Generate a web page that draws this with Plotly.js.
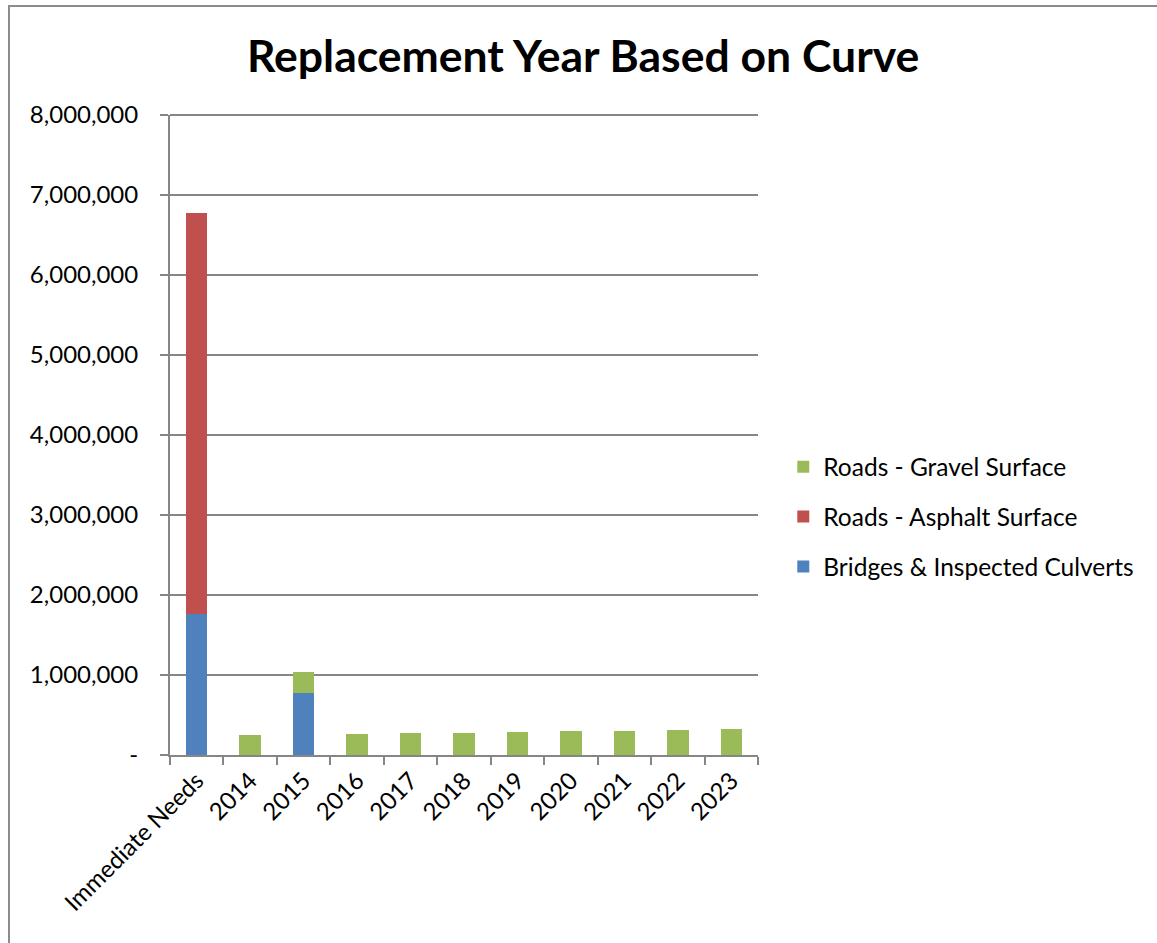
<!DOCTYPE html>
<html>
<head>
<meta charset="utf-8">
<script src="https://cdn.plot.ly/plotly-3.0.1.min.js"></script>
<style>
body{margin:0;padding:0;background:#fff;}
#chart{width:1157px;height:943px;position:absolute;left:0;top:0;}
#frame{position:absolute;left:8px;top:5px;width:1147px;height:936px;border:2px solid #8c8c8c;border-right:none;border-bottom:none;pointer-events:none;}
</style>
</head>
<body>
<div id="chart"></div>
<div id="frame"></div>
<script>
const categories = ["Immediate Needs","2014","2015","2016","2017","2018","2019","2020","2021","2022","2023"];
const bridges = [1762000, 0, 779000, 0, 0, 0, 0, 0, 0, 0, 0];
const asphalt = [5013000, 0, 0, 0, 0, 0, 0, 0, 0, 0, 0];
const gravel = [0, 246000, 254000, 262000, 271000, 279000, 287000, 296000, 300000, 312000, 321000];
const yTickVals = [0,1000000,2000000,3000000,4000000,5000000,6000000,7000000,8000000];
const yTickText = ["-","1,000,000","2,000,000","3,000,000","4,000,000","5,000,000","6,000,000","7,000,000","8,000,000"];

const font = "Lato, 'Open Sans', sans-serif";
const traces = [
  {type:"bar", name:"Bridges & Inspected Culverts", legendgroup:"a", legendrank:3, x:categories, y:bridges, marker:{color:"#4F81BD"}},
  {type:"bar", name:"Roads - Asphalt Surface", legendgroup:"b", legendrank:2, x:categories, y:asphalt, marker:{color:"#C0504D"}},
  {type:"bar", name:"Roads - Gravel Surface", legendgroup:"c", legendrank:1, x:categories, y:gravel, marker:{color:"#9BBB59"}}
];
const layout = {
  width:1157, height:943,
  paper_bgcolor:"#fff", plot_bgcolor:"#fff",
  barmode:"stack", bargap:0.6,
  margin:{l:170, r:399, t:115, b:188, autoexpand:false},
  font:{family:font, color:"#000", size:24},
  title:{text:"<b>Replacement Year Based on Curve</b>", x:0.504, xanchor:"center", y:0.94, yanchor:"middle", font:{family:font, size:44.5, color:"#000"}},
  xaxis:{type:"category", tickangle:-45, showline:true, linecolor:"#868686", linewidth:2, ticks:"outside", ticklen:8, tickcolor:"#868686", tickwidth:2, tickson:"boundaries", showgrid:false, tickfont:{size:24, family:font}},
  yaxis:{range:[0,8000000], tickvals:yTickVals, ticktext:yTickText, showline:true, linecolor:"#868686", linewidth:2, ticks:"outside", ticklen:8, tickcolor:"#868686", tickwidth:2, gridcolor:"#868686", gridwidth:2, zeroline:false, ticklabelstandoff:17, tickfont:{size:24, family:font}},
  legend:{xref:"container", yref:"container", x:0.677, xanchor:"left", y:0.452, yanchor:"middle", traceorder:"grouped", tracegroupgap:15, font:{size:24.5, family:font}, itemwidth:20},
  shapes:[{type:"line", xref:"paper", yref:"paper", x0:0, x1:1, y0:1, y1:1, line:{color:"#868686", width:2}}],
  showlegend:true
};
Plotly.newPlot("chart", traces, layout, {displayModeBar:false, staticPlot:true});
</script>
</body>
</html>
